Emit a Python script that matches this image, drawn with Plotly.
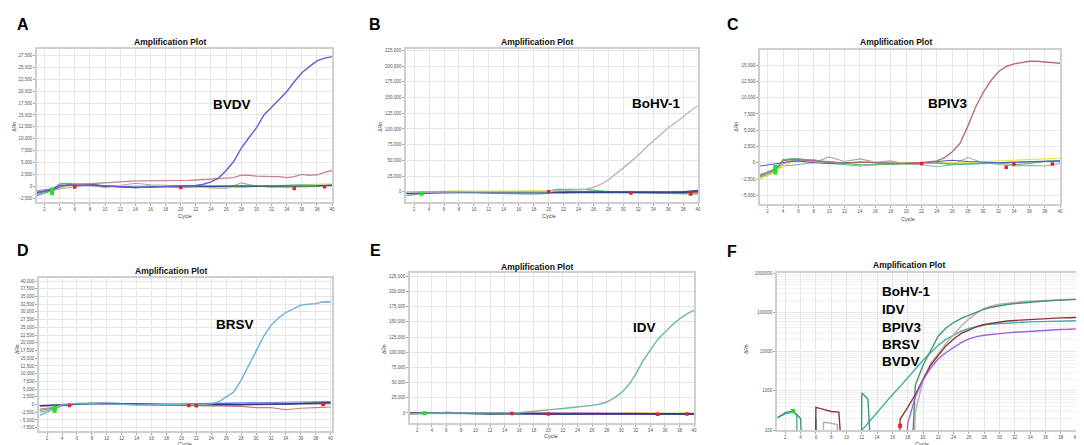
import plotly.graph_objects as go

W, H = 1084, 445

# ---------------- data ----------------
CYC = list(range(1, 41))
XTICKS = list(range(2, 41, 2))
BX = [1, 2, 3, 4, 5, 6, 8, 10, 12, 14, 16, 18, 20, 22, 24, 26, 28, 30, 32, 34, 36, 38, 40]

# Panel A (BVDV)
A_BVDV = [-1500, -1000, -600, 200, 300, 250, 200, 150, 0, -50, -100, -150, -200, -250, -250, -150, -100, -50, 0, 0,
          50, 150, 400, 900, 1700, 3300, 5200, 8000, 10200, 12300, 15000, 16600, 18200, 19900, 22000, 23900, 25200, 26400, 27000, 27300]
A_PINK = [-1000, -800, -500, 0, 200, 300, 400, 500, 700, 800, 900, 1000, 1000, 1100, 1100, 1100, 1100, 1100, 1100, 1100,
          1200, 1300, 1400, 1600, 1700, 1700, 1800, 2300, 2300, 2100, 2000, 2000, 2000, 1800, 2000, 2500, 2300, 2400, 2900, 3300]
A_GREEN = [-2000, -1500, -900, 500, 600, 500, 300, 0, -100, -300, -200, -100, -200, 0, 100, 0, -100, 0, -100, -200, -100, 0, 100]
A_YELLOW = [-1200, -1000, -800, -300, 0, 200, 200, 100, 0, 0, 100, 100, -100, -200, -300, -200, 0, 0, 100, 200, 300, 400, 500]
A_GRAY = [-1800, -1400, -1000, -600, -400, -200, 300, -300, 100, 600, 300, 200, -100, 100, -400, -500, 700, 0, -200, 0, -100, -100, 300]
A_TEAL = [-1500, -1200, -800, -200, 300, 400, 500, 0, -100, -200, 0, -100, -300, -100, 0, -100, -200, -100, 0, 200, 300, 200, 300]
A_NAVY = [-1300, -1000, -800, -100, 200, 300, 400, 0, -200, -300, -200, 0, 100, 0, -100, 0, 100, 0, 0, 100, 0, 100, 200]
A_GMK_X, A_GMK_Y = [3, 3, 3], [-1500, -1100, -700]
A_RMK_X, A_RMK_Y = [6, 20, 35, 39], [-200, -300, -500, -100]
A_YTICKS = [-2500, 0, 2500, 5000, 7500, 10000, 12500, 15000, 17500, 20000, 22500, 25000, 27500]

# Panel B (BoHV-1)
B_BOHV = [-1000, -800, -500, 0, 0, 0, 0, 0, 0, 0, 0, 0, 0, 0, 0, 0, 0, 0, 0, 0,
          1500, 2000, 2000, 2500, 4000, 7000, 12000, 19000, 28000, 38000, 48000, 58000, 70000, 81000, 92000, 102000, 110000, 120000, 129000, 137000]
B_YELLOW = [-1000, -800, -500, 500, 800, 1000, 800, 500, 300, 0, 800, 1000, 500, 0, -500, -500, 0, 0, -500, -800, -500, -300, 0]
B_NAVY = [-2000, -1800, -1500, -1000, -800, -500, -500, -800, -1000, -1500, -1200, -1000, -1500, -1500, -1000, -1000, -1200, -1500, -1500, -1800, -1500, -1000, 1500]
B_RED = [-3000, -2500, -2000, -1000, -500, -500, 0, 0, -300, -500, -500, -300, 0, 0, 500, 300, 0, -500, -1000, -1000, -1000, -800, -1000]
B_PURPLE = [-1500, -1200, -1000, -500, -300, 0, 0, 0, -200, -500, -300, 0, -500, -800, -800, -500, -300, -500, -800, -1000, -1000, 0, 2000]
B_GREEN_X = [1, 2, 3, 4, 6, 8, 10, 12, 14, 16, 18, 20, 20.6, 21, 22, 24, 25, 26, 28, 30, 32, 34, 36, 38, 40]
B_GREEN = [-6000, -4500, -3000, -1500, -1000, -1500, -2000, -2500, -3000, -3000, -3500, -2500, 2500, 3500, 4000, 3800, 3500, 2000, 0, -1000, -1500, -2000, -2000, -2500, -3500]
B_GMK_X, B_GMK_Y = [3], [-3000]
B_RMK_X, B_RMK_Y = [20, 31, 39, 39], [0, -2000, -3500, -1500]
B_YTICKS = [0, 25000, 50000, 75000, 100000, 125000, 150000, 175000, 200000, 225000]

# Panel C (BPIV3)
C_BPIV3 = [-2000, -1500, -1000, 300, 500, 500, 400, 300, 200, 100, 0, -100, 0, 100, 100, 0, -100, -100, -100, 0,
           0, 0, 100, 300, 800, 1700, 3000, 5600, 8500, 10800, 12600, 14000, 14800, 15200, 15400, 15600, 15600, 15500, 15500, 15300]
C_GREEN = [-2200, -1800, -1200, 500, 600, 600, 300, 200, -100, -300, -300, -200, -100, -100, 0, -200, -200, -100, 0, -300, -100, 200, 300]
C_YELLOW = [-2500, -2000, -1500, -500, 0, 300, 200, 100, 0, 0, 200, 0, 0, 0, 0, 0, 0, 200, 300, 300, 400, 500, 700]
C_GRAY = [-2000, -1500, -1000, -500, -400, -300, 0, 900, 200, 600, 100, 300, -200, -300, -600, -300, 800, 0, -300, -500, -400, -500, -100]
C_TEAL = [-1800, -1400, -900, -200, 300, 400, 500, -100, -300, -500, -300, -200, -200, -100, 0, -300, -200, -100, -100, 0, 100, 200, 300]
C_NAVY = [-500, -300, -100, 100, 200, 300, 0, -100, 0, 100, 0, -100, -100, 0, 200, 400, 200, 100, 0, 100, 200, 300, 300]
C_GMK_X, C_GMK_Y = [3, 3, 3], [-1500, -1000, -600]
C_RMK_X, C_RMK_Y = [22, 33, 34, 39], [-100, -700, -200, -200]
C_YTICKS = [-5000, -2500, 0, 2500, 5000, 7500, 10000, 12500, 15000]

# Panel D (BRSV)
D_BRSV = [-3500, -2500, -1000, 0, 200, 300, 300, 300, 200, 200, 100, 0, 0, -100, -100, 0, 0, 0, 0, 0,
          100, 100, 100, 200, 900, 2500, 4000, 7800, 12600, 17400, 22000, 25600, 28000, 29800, 31000, 32200, 32500, 32700, 33300, 33200]
D_GREEN = [-2000, -1500, -1000, -200, 200, 400, 500, 300, 200, 0, 0, -200, -300, -300, -400, -200, -100, 0, 0, 200, 300, 500, 700]
D_GRAY = [-2500, -2000, -1500, -500, 0, 200, 300, 200, 0, -200, -300, -300, -400, -400, -300, -200, -200, -100, -100, 0, 100, 100, 200]
D_NAVY = [-500, -400, -200, 0, 100, 200, 300, 300, 200, 100, 0, -100, -100, 0, 100, 100, 0, 0, 100, 200, 300, 500, 600]
D_BLUE = [-300, -200, -100, 100, 200, 300, 400, 500, 300, 200, 100, 100, 200, 300, 400, 500, 500, 600, 600, 700, 800, 900, 1000]
D_PINK = [-1500, -1200, -900, -300, 0, 100, 200, 200, 100, 0, -100, -200, -300, -400, -500, -500, -600, -1000, -1000, -1700, -1200, -1000, -800]
D_GMK_X, D_GMK_Y = [3, 3, 3], [-2000, -1500, -1000]
D_RMK_X, D_RMK_Y = [5, 21, 22, 39], [-300, -300, -400, 0]
D_YTICKS = [-7500, -5000, -2500, 0, 2500, 5000, 7500, 10000, 12500, 15000, 17500, 20000, 22500, 25000, 27500, 30000, 32500, 35000, 37500, 40000]

# Panel E (IDV)
E_IDV = [-1000, -500, 0, 0, 0, 0, 0, 0, 0, 0, 0, 0, 0, 0, 0, 300, 1500, 3000, 4200, 5500,
         6400, 7300, 8300, 9800, 11000, 12500, 14300, 18000, 24500, 33000, 46000, 64000, 86000, 104000, 121000, 133000, 145000, 155000, 163000, 169000]
E_YELLOW = [0, 0, 0, -500, -1000, -1000, -500, 0, -500, -1000, 0, 0, -500, -1000, -1500, -1500, -1000, -1000, 0, -500, -1000, -1000, -500]
E_NAVY = [-1000, -1000, -500, 0, 0, 500, -500, -1000, -1500, -1000, -1500, -1500, -2000, -2000, -1500, -1500, -1500, -1000, -1500, -2000, -2000, -2000, -1500]
E_RED = [-500, -500, -500, -500, -500, -1000, -1000, -500, -500, -1000, -1000, -1000, -1000, -1500, -1000, -1000, -1000, -1500, -1500, -1500, -2000, -2000, -2000]
E_PURPLE = [0, 0, 0, 0, -500, -500, -1000, -1000, -500, -1000, -1000, -500, -500, -1000, -1000, -1000, -1000, -1000, -1000, -1500, -2000, -2000, -1500]
E_GMK_X, E_GMK_Y = [3], [-500]
E_RMK_X, E_RMK_Y = [15, 20, 35, 39], [-1000, -1500, -2000, -1500]
E_YTICKS = [0, 25000, 50000, 75000, 100000, 125000, 150000, 175000, 200000, 225000]

# Panel F (log, all targets)
F_IDV_X = [1, 2, 3, 4, 4.5, 5.9, 6, 6.2, 11.9, 12, 12.8, 13.6, 18.2, 19, 20, 21, 22, 23, 24, 25, 26, 27, 28, 29, 30,
           31, 32, 33, 34, 35, 36, 37, 38, 39, 40]
F_IDV_Y = [210, 280, 310, 200, 1, 1, 200, 1, 1, 880, 620, 1, 1, 1400, 4500, 11000, 25000, 40000, 55000, 70000, 85000, 100000, 120000, 135000, 148000,
           158000, 167000, 175000, 182000, 188000, 194000, 199000, 204000, 209000, 213000]
F_BOHV_X = [6.9, 7, 8, 8.8, 8.9, 18.5, 19, 20, 21, 22, 23, 24, 25, 26, 27, 28, 29, 30, 31, 32, 33, 34, 35, 36, 37, 38, 39, 40]
F_BOHV_Y = [1, 160, 150, 140, 1, 1, 300, 1800, 5000, 9000, 16000, 27000, 45000, 68000, 95000, 125000, 145000, 160000, 170000, 178000, 185000,
            191000, 196000, 201000, 205000, 209000, 213000, 216000]
F_BRSV_X = [1, 2, 3, 3.5, 3.7, 11, 12, 13, 14, 15, 16, 17, 18, 19, 20, 21, 22, 23, 24, 25, 26, 27, 28, 29, 30, 31, 32, 33, 34, 35, 36, 37, 38, 39, 40]
F_BRSV_Y = [210, 260, 290, 250, 1, 1, 100, 170, 290, 480, 800, 1300, 2200, 3500, 6000, 9500, 14500, 20500, 26500, 33000, 39000, 44000, 47500, 50000,
            52000, 53500, 55000, 56000, 57000, 58000, 58500, 59000, 60000, 60500, 61000]
F_BPIV3_X = [5.9, 6, 7, 8, 9, 9.9, 16.9, 17, 18, 19, 20, 21, 22, 23, 24, 25, 26, 27, 28, 29, 30, 31, 32, 33, 34, 35, 36, 37, 38, 39, 40]
F_BPIV3_Y = [1, 380, 340, 300, 290, 1, 1, 190, 380, 800, 2000, 4500, 8000, 14000, 21000, 29000, 35000, 43000, 49000, 53000, 57000, 60000, 62000,
             64000, 66000, 68000, 69500, 71000, 72000, 73000, 74000]
F_BVDV_X = [17.5, 18, 19, 20, 21, 22, 23, 24, 25, 26, 27, 28, 29, 30, 31, 32, 33, 34, 35, 36, 37, 38, 39, 40]
F_BVDV_Y = [1, 150, 700, 1900, 3800, 6600, 9500, 13000, 17000, 21000, 24000, 26000, 27500, 29000, 30000, 31000, 32000, 33000, 34000, 35000,
            36000, 36500, 37000, 38000]
F_GMK_X, F_GMK_Y = [3], [310]
F_RMK_X, F_RMK_Y = [17], [130]
F_YTICKS = [100, 1000, 10000, 100000, 1000000]
F_LABELS = ["BoHV-1", "IDV", "BPIV3", "BRSV", "BVDV"]

PANEL_LETTERS = ["A", "B", "C", "D", "E", "F"]
TARGETS = ["BVDV", "BoHV-1", "BPIV3", "BRSV", "IDV"]

# ---------------- style ----------------
COL = dict(green="#58b858", yellow="#e2dc5a", gray="#a8a8a8", teal="#5cc0c0", navy="#34418f",
           pink="#cc8592", red="#c06070", purple="#8a5ad0", blue="#6878e0")
LW = 1.1
MAIN_W = 1.4
TXT = "Liberation Sans"

fig = go.Figure()


def px_x(v):
    return v / W


def px_y(v):
    return 1 - v / H


panels = [
    dict(box=(29, 325, 39, 194), xr=[1, 40], yr=[-3300, 29000], yt=A_YTICKS, cyc=(177, 208), drn=(6, 118), letter=(15, 15), title=(162, 32)),
    dict(box=(399, 692, 39, 194), xr=[0.9, 40], yr=[-16000, 228000], yt=B_YTICKS, cyc=(543, 208), drn=(373, 118), letter=(368, 15), title=(530, 32)),
    dict(box=(754, 1055, 40, 196), xr=[1, 40], yr=[-6300, 17400], yt=C_YTICKS, cyc=(902, 211), drn=(730, 118), letter=(727, 15), title=(890, 32)),
    dict(box=(31, 325, 271, 426), xr=[0.9, 40.2], yr=[-8650, 41000], yt=D_YTICKS, cyc=(177, 439), drn=(9, 343), letter=(15, 243), title=(163, 264)),
    dict(box=(403, 688, 266, 418), xr=[1, 40], yr=[-17000, 230400], yt=E_YTICKS, cyc=(545, 431), drn=(377, 343), letter=(369, 243), title=(530, 260)),
    dict(box=(771, 1071, 266, 425), xr=[0.9, 40], yr=[2, 6], yt=F_YTICKS, cyc=(917, 439), drn=(740, 343), letter=(726, 244), title=(903, 258), log=True),
]

layout = dict(width=W, height=H, margin=dict(l=0, r=0, t=0, b=0), paper_bgcolor="white", plot_bgcolor="white",
              showlegend=False, annotations=[])

for i, p in enumerate(panels):
    n = "" if i == 0 else str(i + 1)
    l, r, t, b = p["box"]
    xa = dict(domain=[px_x(l), px_x(r)], range=p["xr"], anchor="y" + n, tickvals=XTICKS,
              tickfont=dict(size=4.5, color="#555", family=TXT), ticks="outside", ticklen=2, tickcolor="#aaa",
              showgrid=True, gridcolor="#e6e6e6", gridwidth=0.7, zeroline=False,
              showline=True, linecolor="#cfcfcf", linewidth=1.5, mirror=True)
    ya = dict(domain=[px_y(b), px_y(t)], range=p["yr"], anchor="x" + n, tickvals=p["yt"],
              tickfont=dict(size=4.5, color="#555", family=TXT), ticks="outside", ticklen=2, tickcolor="#aaa",
              showgrid=True, gridcolor="#e6e6e6", gridwidth=0.7, zeroline=False,
              showline=True, linecolor="#cfcfcf", linewidth=1.5, mirror=True)
    if p.get("log"):
        ya.update(type="log", tickformat="d", minor=dict(dtick="D1", showgrid=True, gridcolor="#f1f1f1", gridwidth=0.5))
    else:
        ya.update(tickformat=",d")
    layout["xaxis" + n] = xa
    layout["yaxis" + n] = ya
    ann = layout["annotations"]
    ann.append(dict(text="<b>%s</b>" % PANEL_LETTERS[i], x=px_x(p["letter"][0]), y=px_y(p["letter"][1]), xref="paper", yref="paper",
                    showarrow=False, font=dict(size=16, family=TXT, color="black"), xanchor="center", yanchor="middle"))
    ann.append(dict(text="<b>Amplification Plot</b>", x=px_x(p["title"][0]), y=px_y(p["title"][1]), xref="paper", yref="paper",
                    showarrow=False, font=dict(size=8.5, family=TXT, color="#111"), xanchor="center", yanchor="middle"))
    ann.append(dict(text="Cycle", x=px_x(p["cyc"][0]), y=px_y(p["cyc"][1]), xref="paper", yref="paper",
                    showarrow=False, font=dict(size=5.5, family=TXT, color="#444"), xanchor="center", yanchor="middle"))
    ann.append(dict(text="ΔRn", x=px_x(p["drn"][0]), y=px_y(p["drn"][1]), xref="paper", yref="paper", textangle=-90,
                    showarrow=False, font=dict(size=5, family=TXT, color="#444"), xanchor="center", yanchor="middle"))

fig.update_layout(**layout)


def line(x, y, color, ax, width=LW):
    n = "" if ax == 1 else str(ax)
    fig.add_trace(go.Scatter(x=x, y=y, mode="lines", line=dict(color=color, width=width), xaxis="x" + n, yaxis="y" + n,
                             hoverinfo="skip", cliponaxis=True))


def marks(x, y, color, ax, size=3.5):
    n = "" if ax == 1 else str(ax)
    fig.add_trace(go.Scatter(x=x, y=y, mode="markers", marker=dict(color=color, size=size, symbol="square"),
                             xaxis="x" + n, yaxis="y" + n, hoverinfo="skip"))


# A
line(BX, A_GRAY, COL["gray"], 1)
line(BX, A_YELLOW, COL["yellow"], 1)
line(BX, A_TEAL, COL["teal"], 1)
line(BX, A_GREEN, COL["green"], 1)
line(BX, A_NAVY, COL["navy"], 1)
line(CYC, A_PINK, COL["pink"], 1, 1.3)
line(CYC, A_BVDV, "#6a5cd8", 1, MAIN_W)
marks(A_GMK_X, A_GMK_Y, "#22e022", 1, 4)
marks(A_RMK_X, A_RMK_Y, "#e8202a", 1)

# B
line(BX, B_YELLOW, "#e8c040", 2, 1.6)
line(B_GREEN_X, B_GREEN, "#5cbf8a", 2, 1.4)
line(BX, B_RED, "#d05a5a", 2, 1.4)
line(BX, B_PURPLE, "#8a4ac0", 2, 1.4)
line(BX, B_NAVY, COL["navy"], 2, 1.6)
line(CYC, B_BOHV, "#b8b8b8", 2, MAIN_W)
marks(B_GMK_X, B_GMK_Y, "#22e022", 2, 4)
marks(B_RMK_X, B_RMK_Y, "#e8202a", 2)

# C
line(BX, C_GRAY, COL["gray"], 3)
line(BX, C_YELLOW, "#f0e040", 3)
line(BX, C_TEAL, COL["teal"], 3)
line(BX, C_GREEN, COL["green"], 3)
line(BX, C_NAVY, "#4a5ad8", 3)
line(CYC, C_BPIV3, "#b86a7e", 3, MAIN_W)
marks(C_GMK_X, C_GMK_Y, "#22e022", 3, 4)
marks(C_RMK_X, C_RMK_Y, "#e8202a", 3)

# D
line(BX, D_GRAY, COL["gray"], 4)
line(BX, D_GREEN, COL["green"], 4)
line(BX, D_PINK, "#d07a84", 4)
line(BX, D_BLUE, "#7a7ae8", 4)
line(BX, D_NAVY, "#2a3a80", 4, 1.5)
line(CYC, D_BRSV, "#6db3d4", 4, MAIN_W)
marks(D_GMK_X, D_GMK_Y, "#22e022", 4, 4)
marks(D_RMK_X, D_RMK_Y, "#e8202a", 4)

# E
line(BX, E_YELLOW, "#e8d040", 5, 1.6)
line(BX, E_RED, "#c84060", 5, 1.6)
line(BX, E_PURPLE, "#8040b0", 5, 1.6)
line(BX, E_NAVY, "#30408a", 5, 1.6)
line(CYC, E_IDV, "#6fb89c", 5, MAIN_W)
marks(E_GMK_X, E_GMK_Y, "#22e022", 5, 4)
marks(E_RMK_X, E_RMK_Y, "#e8202a", 5)

# F
line(F_BRSV_X, F_BRSV_Y, "#40b0aa", 6, 1.4)
line(F_BOHV_X, F_BOHV_Y, "#c4a8a8", 6, 1.4)
line(F_IDV_X, F_IDV_Y, "#3f9a6e", 6, 1.4)
line(F_BPIV3_X, F_BPIV3_Y, "#8a3838", 6, 1.4)
line(F_BVDV_X, F_BVDV_Y, "#a45ee8", 6, 1.4)
marks(F_GMK_X, F_GMK_Y, "#22e022", 6, 4)
marks(F_RMK_X, F_RMK_Y, "#e8202a", 6, 4)

# target labels
TARGET_POS = [(225, 96), (650, 95), (943, 95), (228, 318), (638, 321)]
for name, (x, y) in zip(TARGETS, TARGET_POS):
    fig.add_annotation(text="<b>%s</b>" % name, x=px_x(x), y=px_y(y), xref="paper", yref="paper", showarrow=False,
                       font=dict(size=13.5, family=TXT, color="black"), xanchor="center", yanchor="middle")
F_LABEL_Y = [285, 303, 321, 338, 355]
for name, y in zip(F_LABELS, F_LABEL_Y):
    fig.add_annotation(text="<b>%s</b>" % name, x=px_x(874), y=px_y(y), xref="paper", yref="paper", showarrow=False,
                       font=dict(size=13.5, family=TXT, color="black"), xanchor="left", yanchor="middle")

fig.write_html("out.html")
